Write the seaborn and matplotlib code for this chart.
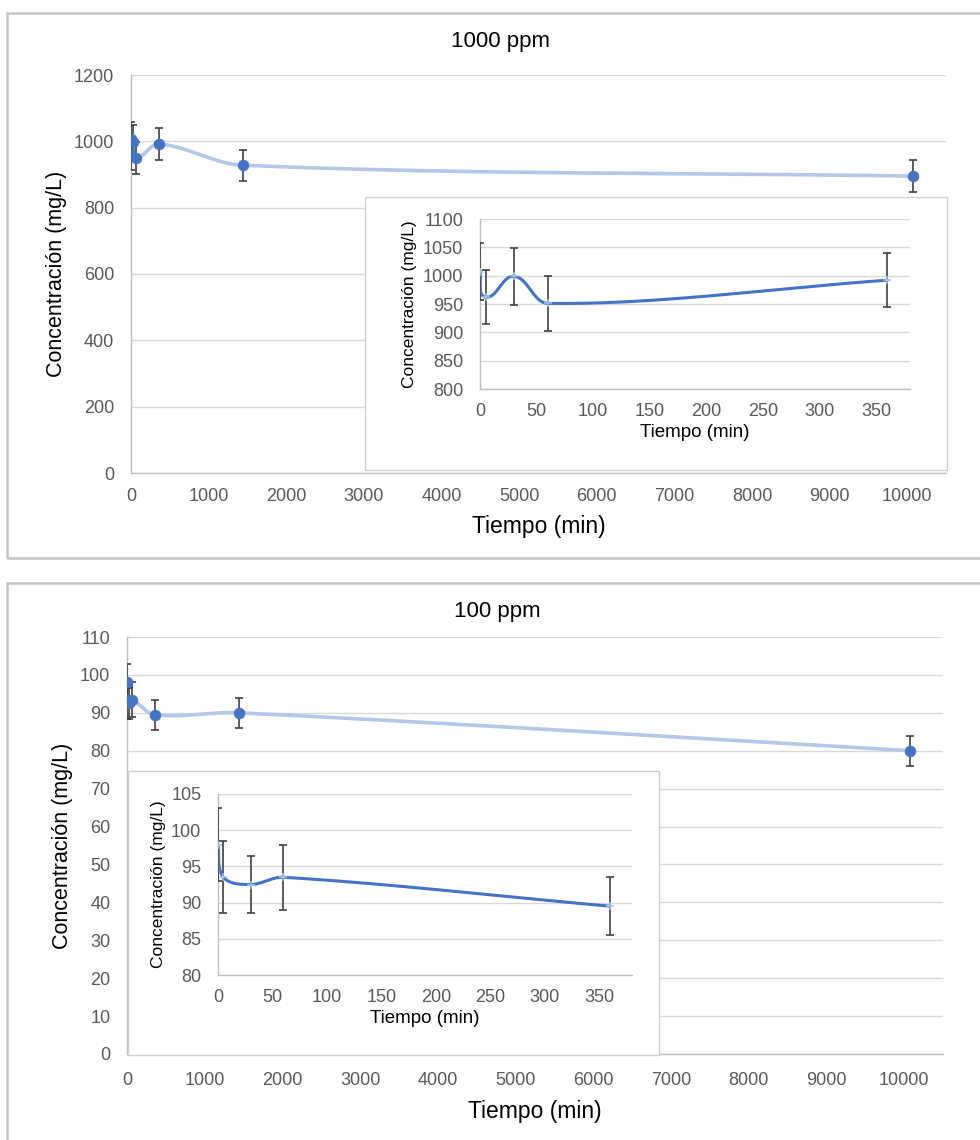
import numpy as np
import matplotlib
matplotlib.use("Agg")
import matplotlib.pyplot as plt
import seaborn as sns
from matplotlib.patches import Rectangle

# ---------------- data ----------------
time_min = [0, 5, 30, 60, 360, 1440, 10080]
conc_1000 = [1007, 962, 999, 951, 992, 928, 895]
err_1000 = [50, 48, 50, 48, 48, 47, 48]
conc_100 = [98.0, 93.5, 92.5, 93.5, 89.5, 90.0, 80.0]
err_100 = [5.0, 5.0, 4.0, 4.5, 4.0, 4.0, 4.0]
n_inset = 5  # inset shows the first five sampling times (0-360 min)

x_ticks_main = list(range(0, 10001, 1000))
x_ticks_inset = list(range(0, 351, 50))
y_ticks_1000 = list(range(0, 1201, 200))
y_ticks_1000_inset = list(range(800, 1101, 50))
y_ticks_100 = list(range(0, 111, 10))
y_ticks_100_inset = list(range(80, 106, 5))

titles = ["1000 ppm", "100 ppm"]
xlabel = "Tiempo (min)"
ylabel = "Concentración (mg/L)"

# ---------------- style ----------------
sns.set_theme(style="white")
plt.rcParams["font.family"] = ["Liberation Sans", "DejaVu Sans"]

BLUE = "#4472c4"
LIGHT = "#b4c7e7"
ERR = "#404040"
GRID = "#d9d9d9"
SPINE = "#bfbfbf"
TICK = "#595959"

fig = plt.figure(figsize=(9.8, 11.4), dpi=100)
W, H = 980.0, 1140.0


def frac(x0, y0, x1, y1):
    return [x0 / W, 1 - y1 / H, (x1 - x0) / W, (y1 - y0) / H]


def smooth_curve(ax, x, y, n=40):
    pts = ax.transData.transform(np.column_stack([x, y]).astype(float))
    m = len(pts)
    tang = np.zeros_like(pts)
    for i in range(m):
        d = pts[min(i + 1, m - 1)] - pts[max(i - 1, 0)]
        nrm = np.hypot(*d)
        tang[i] = d / nrm if nrm > 0 else 0
    out = [pts[0]]
    t = np.linspace(0, 1, n)[1:, None]
    for i in range(m - 1):
        p0, p3 = pts[i], pts[i + 1]
        L = np.hypot(*(p3 - p0)) / 3.0
        p1 = p0 + tang[i] * L
        p2 = p3 - tang[i + 1] * L
        seg = ((1 - t) ** 3) * p0 + 3 * ((1 - t) ** 2) * t * p1 + 3 * (1 - t) * t ** 2 * p2 + t ** 3 * p3
        out.extend(seg)
    data = ax.transData.inverted().transform(np.array(out))
    return data[:, 0], data[:, 1]


def style_axes(ax, xt, yt, xlim, ylim, tsize, xpad, ypad):
    ax.set_xlim(*xlim)
    ax.set_ylim(*ylim)
    ax.set_xticks(xt)
    ax.set_yticks(yt)
    ax.set_xticklabels([str(v) for v in xt])
    ax.set_yticklabels([str(v) for v in yt])
    ax.tick_params(axis="both", length=0, labelsize=tsize, labelcolor=TICK)
    ax.tick_params(axis="x", pad=xpad)
    ax.tick_params(axis="y", pad=ypad)
    ax.grid(axis="y", color=GRID, lw=1.0)
    ax.grid(axis="x", visible=False)
    ax.set_axisbelow(True)
    for s in ["top", "right"]:
        ax.spines[s].set_visible(False)
    for s in ["left", "bottom"]:
        ax.spines[s].set_color(SPINE)
        ax.spines[s].set_linewidth(1.0)


def main_panel(rect, conc, err, yt, ylim, xpad, xlp):
    ax = fig.add_axes(rect)
    ax.set_zorder(0)
    style_axes(ax, x_ticks_main, yt, (0, 10500), ylim, 13, xpad, 12)
    sx, sy = smooth_curve(ax, time_min, conc)
    sns.lineplot(x=sx, y=sy, ax=ax, color=LIGHT, lw=2.6, sort=False, estimator=None, zorder=2)
    ax.errorbar(time_min, conc, yerr=err, fmt="none", ecolor=ERR, elinewidth=1.2,
                capsize=3, capthick=1.2, zorder=3)
    sns.scatterplot(x=time_min, y=conc, ax=ax, color=BLUE, s=60, edgecolor=BLUE,
                    linewidth=0.5, zorder=4)
    ax.set_xlabel(xlabel, fontsize=16.5, color="black", labelpad=xlp)
    ax.set_ylabel(ylabel, fontsize=15.5, color="black", labelpad=5)
    return ax


def inset_panel(rect, conc, err, yt, ylim):
    ax = fig.add_axes(rect)
    ax.set_zorder(2)
    ax.set_facecolor("white")
    style_axes(ax, x_ticks_inset, yt, (0, 380), ylim, 13, 10, 12)
    tx = time_min[:n_inset]
    cy = conc[:n_inset]
    sx, sy = smooth_curve(ax, tx, cy)
    sns.lineplot(x=sx, y=sy, ax=ax, color=BLUE, lw=2.2, sort=False, estimator=None, zorder=2)
    ax.errorbar(tx, cy, yerr=err[:n_inset], fmt="none", ecolor=ERR, elinewidth=1.2,
                capsize=2.8, capthick=1.2, zorder=3)
    ax.plot(tx, cy, ls="none", marker="+", ms=6, mew=1.1, color="#a9c4eb", zorder=4)
    ax.set_xlabel(xlabel, fontsize=13.5, color="black", labelpad=3)
    ax.set_ylabel(ylabel, fontsize=12.5, color="black", labelpad=4)
    return ax


# panel frames
fig.add_artist(Rectangle((7 / W, 1 - 558 / H), 1.0, (558 - 13) / H, transform=fig.transFigure,
                         fill=False, edgecolor="#c4c4c4", lw=1.8, zorder=-1))
fig.add_artist(Rectangle((7 / W, 1 - 1150 / H), 1.0, (1150 - 583) / H, transform=fig.transFigure,
                         fill=False, edgecolor="#c4c4c4", lw=1.8, zorder=-1))

# ---- top panel: 1000 ppm ----
main_panel(frac(131, 75, 946, 473), conc_1000, err_1000, y_ticks_1000, (0, 1200), 11, 7)
fig.add_artist(Rectangle((365 / W, 1 - 470 / H), (947 - 365) / W, (470 - 197) / H,
                         transform=fig.transFigure, facecolor="white", edgecolor="#d0d0d0",
                         lw=1.0, zorder=1))
inset_panel(frac(480, 219, 910, 389), conc_1000, err_1000, y_ticks_1000_inset, (800, 1100))
fig.text(500 / W, 1 - 42 / H, titles[0], ha="center", va="center", fontsize=16, color="black")

# ---- bottom panel: 100 ppm ----
main_panel(frac(127, 637, 943, 1054), conc_100, err_100, y_ticks_100, (0, 110), 13, 8)
fig.add_artist(Rectangle((128 / W, 1 - 1055 / H), (659 - 128) / W, (1055 - 771) / H,
                         transform=fig.transFigure, facecolor="white", edgecolor="#d0d0d0",
                         lw=1.0, zorder=1))
inset_panel(frac(218, 794, 632, 975), conc_100, err_100, y_ticks_100_inset, (80, 105))
fig.text(497 / W, 1 - 612 / H, titles[1], ha="center", va="center", fontsize=16, color="black")

fig.savefig("out.png", dpi=100)
